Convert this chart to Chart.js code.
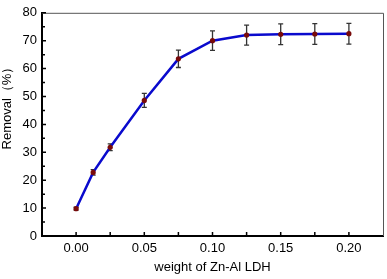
<!DOCTYPE html>
<html>
<head>
<meta charset="utf-8">
<script src="https://cdn.jsdelivr.net/npm/chart.js@4"></script>
<style>
  html, body { margin: 0; padding: 0; background: #fff; }
  #wrap { width: 387px; height: 279px; }
</style>
</head>
<body>
<div id="wrap"><canvas id="removalChart" width="387" height="279"></canvas></div>
<script>
// weight of Zn-Al LDH vs removal (%)
let weights = [0, 0.0125, 0.025, 0.05, 0.075, 0.10, 0.125, 0.15, 0.175, 0.20]
let removal = [9.8, 22.8, 31.8, 48.6, 63.5, 70.0, 72.0, 72.3, 72.4, 72.5]
let errors = [0.5, 1.0, 1.2, 2.5, 3.1, 3.5, 3.6, 3.7, 3.7, 3.7]

let xTicks = [0, 0.05, 0.10, 0.15, 0.20]
let yTitle = 'Removal（%）'
let xTitle = 'weight of Zn-Al LDH'

let points = []
for (let i in weights) {
    points.push({ x: weights[i], y: removal[i] })
}

const font = "'Liberation Sans', Arial, sans-serif"

// inward ticks, top/right frame, error bars and rotated y title
const extras = {
    id: 'extras',
    beforeDatasetsDraw(chart) {
        const ctx = chart.ctx
        const xs = chart.scales.x
        const ys = chart.scales.y
        const a = chart.chartArea
        ctx.save()
        ctx.strokeStyle = '#555'
        ctx.lineWidth = 1
        ctx.beginPath()
        ctx.moveTo(a.left, a.top + 0.5)
        ctx.lineTo(a.right + 0.5, a.top + 0.5)
        ctx.lineTo(a.right + 0.5, a.bottom)
        ctx.stroke()

        ctx.strokeStyle = '#000'
        ctx.lineWidth = 1.5
        ctx.beginPath()
        for (let v = 0; v <= 80; v += 5) {
            let py = ys.getPixelForValue(v)
            let len = v % 10 == 0 ? 4 : 3
            ctx.moveTo(a.left, py)
            ctx.lineTo(a.left + len, py)
        }
        for (let v = 0; v <= 0.2001; v += 0.025) {
            let px = xs.getPixelForValue(v)
            ctx.moveTo(px, a.bottom)
            ctx.lineTo(px, a.bottom - 4)
        }
        ctx.stroke()

        ctx.strokeStyle = '#333'
        ctx.lineWidth = 1.3
        ctx.beginPath()
        for (let i in weights) {
            let px = xs.getPixelForValue(weights[i])
            let top = ys.getPixelForValue(removal[i] + errors[i])
            let bot = ys.getPixelForValue(removal[i] - errors[i])
            ctx.moveTo(px, top)
            ctx.lineTo(px, bot)
            ctx.moveTo(px - 2.5, top)
            ctx.lineTo(px + 2.5, top)
            ctx.moveTo(px - 2.5, bot)
            ctx.lineTo(px + 2.5, bot)
        }
        ctx.stroke()

        ctx.fillStyle = '#000'
        ctx.font = '13px ' + font
        ctx.textAlign = 'center'
        ctx.textBaseline = 'middle'
        ctx.translate(7, 105)
        ctx.rotate(-Math.PI / 2)
        ctx.fillText(yTitle, 0, 0)
        ctx.restore()
    }
}

const ctx = document.getElementById('removalChart').getContext('2d')
let chart = new Chart(ctx, {
    type: 'line',
    data: {
        datasets: [
            {
                data: points,
                borderColor: 'rgb(10, 10, 205)',
                borderWidth: 2.5,
                pointBackgroundColor: 'rgb(120, 10, 10)',
                pointBorderColor: 'rgb(120, 10, 10)',
                pointRadius: 2.6,
                pointBorderWidth: 0,
                fill: false,
                tension: 0,
            },
        ],
    },
    plugins: [extras],
    options: {
        responsive: false,
        animation: false,
        layout: { padding: { top: 7, right: 4, left: 0, bottom: 0 } },
        plugins: {
            legend: { display: false },
            tooltip: { enabled: false },
        },
        scales: {
            x: {
                type: 'linear',
                min: -0.025,
                max: 0.225,
                afterFit(scale) { scale.height = 43 },
                afterBuildTicks(scale) {
                    scale.ticks = xTicks.map(v => ({ value: v }))
                },
                grid: { display: false, drawTicks: false },
                border: { display: true, color: '#000', width: 2 },
                ticks: {
                    color: '#000',
                    padding: 5,
                    font: { family: font, size: 13 },
                    callback: v => v.toFixed(2),
                },
                title: {
                    display: true,
                    text: xTitle,
                    color: '#000',
                    font: { family: font, size: 13 },
                    padding: { top: 10 },
                },
            },
            y: {
                min: 0,
                max: 80,
                afterFit(scale) { scale.width = 42 },
                grid: { display: false, drawTicks: false },
                border: { display: true, color: '#000', width: 2 },
                ticks: {
                    stepSize: 10,
                    color: '#000',
                    padding: 5,
                    font: { family: font, size: 13 },
                },
            },
        },
    },
})
</script>
</body>
</html>
